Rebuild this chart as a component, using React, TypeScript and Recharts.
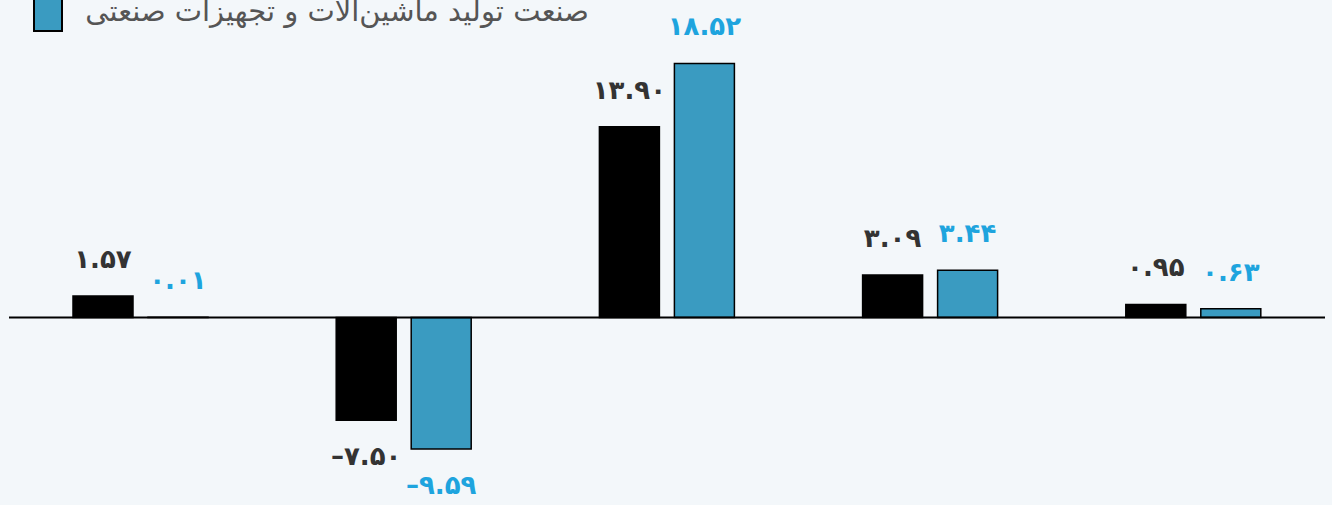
import { BarChart, Bar, XAxis, YAxis, ReferenceLine, LabelList } from "recharts"

const categories = ["c1", "c2", "c3", "c4", "c5"]
const totalValues = [1.57, -7.5, 13.9, 3.09, 0.95]
const machineryValues = [0.01, -9.59, 18.52, 3.44, 0.63]
const legendName = "صنعت تولید ماشین‌آلات و تجهیزات صنعتی"

const data = categories.map((c, i) => ({
  name: c,
  total: totalValues[i],
  machinery: machineryValues[i],
}))

const faDigits = "۰۱۲۳۴۵۶۷۸۹"
const toFa = (v: number) =>
  (v < 0 ? "–" : "") +
  Math.abs(v)
    .toFixed(2)
    .replace(/\d/g, (d) => faDigits[+d])

const makeLabel = (color: string) => (props: any) => {
  const { x, y, width, height, value } = props
  const top = Math.min(y, y + height)
  const bottom = Math.max(y, y + height)
  const ty = value < 0 ? bottom + 36 : top - 37
  return (
    <text
      x={x + width / 2}
      y={ty}
      fill={color}
      textAnchor="middle"
      dominantBaseline="central"
      fontFamily="DejaVu Sans"
      fontWeight="bold"
      fontSize={26}
    >
      {toFa(value)}
    </text>
  )
}

export default function App() {
  return (
    <div
      style={{
        position: "absolute",
        left: 0,
        top: 0,
        width: 1332,
        height: 505,
        overflow: "hidden",
        background: "#f3f7fa",
      }}
    >
      <div
        style={{
          position: "absolute",
          left: 33,
          top: -2,
          width: 26,
          height: 30,
          background: "#3a9bc1",
          border: "2px solid #000",
        }}
      />
      <div
        style={{
          position: "absolute",
          left: 79,
          top: -6,
          width: 510,
          direction: "rtl",
          fontFamily: "DejaVu Sans",
          fontSize: 29,
          lineHeight: "34px",
          color: "#555",
          whiteSpace: "nowrap",
        }}
      >
        {legendName}
      </div>
      <BarChart
        width={1332}
        height={505}
        data={data}
        margin={{ top: 2, right: 7, bottom: 23, left: 9 }}
        barSize={60}
        barGap={15}
      >
        <XAxis dataKey="name" hide />
        <YAxis hide domain={[-12, 23]} />
        <Bar dataKey="total" fill="#000" stroke="#000" strokeWidth={1.5} isAnimationActive={false}>
          <LabelList dataKey="total" content={makeLabel("#333")} />
        </Bar>
        <Bar dataKey="machinery" fill="#3a9bc1" stroke="#000" strokeWidth={1.5} isAnimationActive={false}>
          <LabelList dataKey="machinery" content={makeLabel("#1ea4de")} />
        </Bar>
        <ReferenceLine y={0} stroke="#000" strokeWidth={2} />
      </BarChart>
    </div>
  )
}
